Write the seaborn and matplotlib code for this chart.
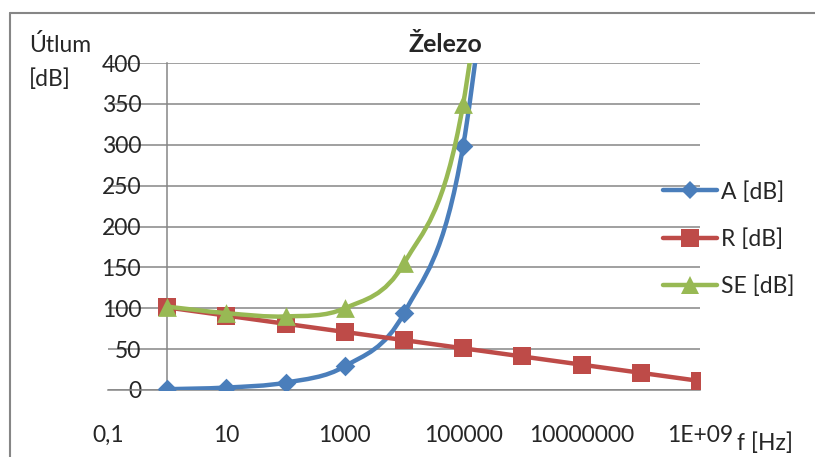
import numpy as np
import seaborn as sns
import matplotlib.pyplot as plt
from matplotlib.path import Path
from matplotlib.patches import PathPatch
from matplotlib.lines import Line2D

# data
freq = [1, 10, 100, 1e3, 1e4, 1e5, 1e6, 1e7, 1e8, 1e9]
a_db = [1, 3, 9, 29, 94, 299, 940]
r_db = [101, 91, 81, 71, 61, 51, 41, 31, 21, 11]
se_db = [102, 94, 90, 100, 155, 350, 981]
xticks = [0.1, 10, 1000, 1e5, 1e7, 1e9]
xtick_labels = ["0,1", "10", "1000", "100000", "10000000", "1E+09"]
yticks = [0, 50, 100, 150, 200, 250, 300, 350, 400]

sns.set_style("white")
plt.rcParams["font.family"] = ["Lato", "DejaVu Sans"]
FS = 16.5
GRAY = "#868686"
BLUE, RED, GREEN = "#4A7EBB", "#BE4B48", "#98B954"
LW = 3.2


def smooth_path(x, y):
    # Excel-like smoothed line: Catmull-Rom bezier in log-x space
    pts = np.column_stack([np.log10(x), np.asarray(y, float)])
    n = len(pts)
    verts = [pts[0]]
    codes = [Path.MOVETO]
    for i in range(n - 1):
        p0, p1 = pts[max(i - 1, 0)], pts[i]
        p2, p3 = pts[i + 1], pts[min(i + 2, n - 1)]
        verts += [p1 + (p2 - p0) / 6, p2 - (p3 - p1) / 6, p2]
        codes += [Path.CURVE4] * 3
    verts = np.array(verts)
    verts[:, 0] = 10 ** verts[:, 0]
    return Path(verts, codes)


fig = plt.figure(figsize=(8.15, 4.57), dpi=100)
ax = fig.add_axes([108 / 815, 67 / 457, 592 / 815, 327 / 457])

series = [
    ("A [dB]", a_db, BLUE, "D", 10, 3),
    ("R [dB]", r_db, RED, "s", 13.5, 4),
    ("SE [dB]", se_db, GREEN, "^", 13.5, 5),
]
handles = []
for label, vals, color, mk, ms, z in series:
    x = freq[:len(vals)]
    ax.add_patch(PathPatch(smooth_path(x, vals), facecolor="none", edgecolor=color,
                           lw=LW, capstyle="round", joinstyle="round", zorder=z))
    sns.scatterplot(x=x, y=vals, marker=mk, s=ms ** 2, color=color, linewidth=0,
                    zorder=z + 0.5, ax=ax, legend=False)
    handles.append(Line2D([], [], color=color, lw=LW, marker=mk, ms=ms * 0.92, mew=0,
                          label=label))

ax.set_xscale("log")
ax.set_xlim(0.1, 1e9)
ax.set_ylim(0, 400)
ax.set_xticks(xticks, xtick_labels)
ax.minorticks_off()
ax.set_yticks(yticks)
ax.set_xlabel("")
ax.set_ylabel("")

ax.yaxis.grid(True, color=GRAY, lw=1.1)
ax.xaxis.grid(False)
ax.set_axisbelow(True)
for s in ["top", "right"]:
    ax.spines[s].set_visible(False)
for s in ["left", "bottom"]:
    ax.spines[s].set_color(GRAY)
    ax.spines[s].set_linewidth(1.1)
ax.spines["left"].set_position(("data", 1))
ax.tick_params(axis="y", length=0, pad=18.7, labelsize=FS)
ax.tick_params(axis="x", length=5, width=1.1, color=GRAY, pad=20, labelsize=FS, direction="out")

fig.legend(handles=handles, loc="center left", bbox_to_anchor=(663 / 815, 1 - 239 / 457),
           frameon=False, borderpad=0, borderaxespad=0, handlelength=2.36,
           handletextpad=0.17, labelspacing=1.12, fontsize=FS, numpoints=1)

fig.text(445 / 815, 1 - 52 / 457, "Železo", ha="center", va="baseline",
         fontsize=18, fontweight="bold")
fig.text(29 / 815, 1 - 52 / 457, "Útlum", ha="left", va="baseline", fontsize=FS)
fig.text(29 / 815, 1 - 86 / 457, "[dB]", ha="left", va="baseline", fontsize=FS)
fig.text(737 / 815, 1 - 450 / 457, "f [Hz]", ha="left", va="baseline", fontsize=FS)

# chart area border (only top and left edges fall inside the picture)
top = 1 - 13 / 457
left = 10 / 815
fig.add_artist(Line2D([left, 1], [top, top], color=GRAY, lw=1.5, transform=fig.transFigure))
fig.add_artist(Line2D([left, left], [0, top], color=GRAY, lw=1.5, transform=fig.transFigure))

fig.savefig("out.png", dpi=100)
